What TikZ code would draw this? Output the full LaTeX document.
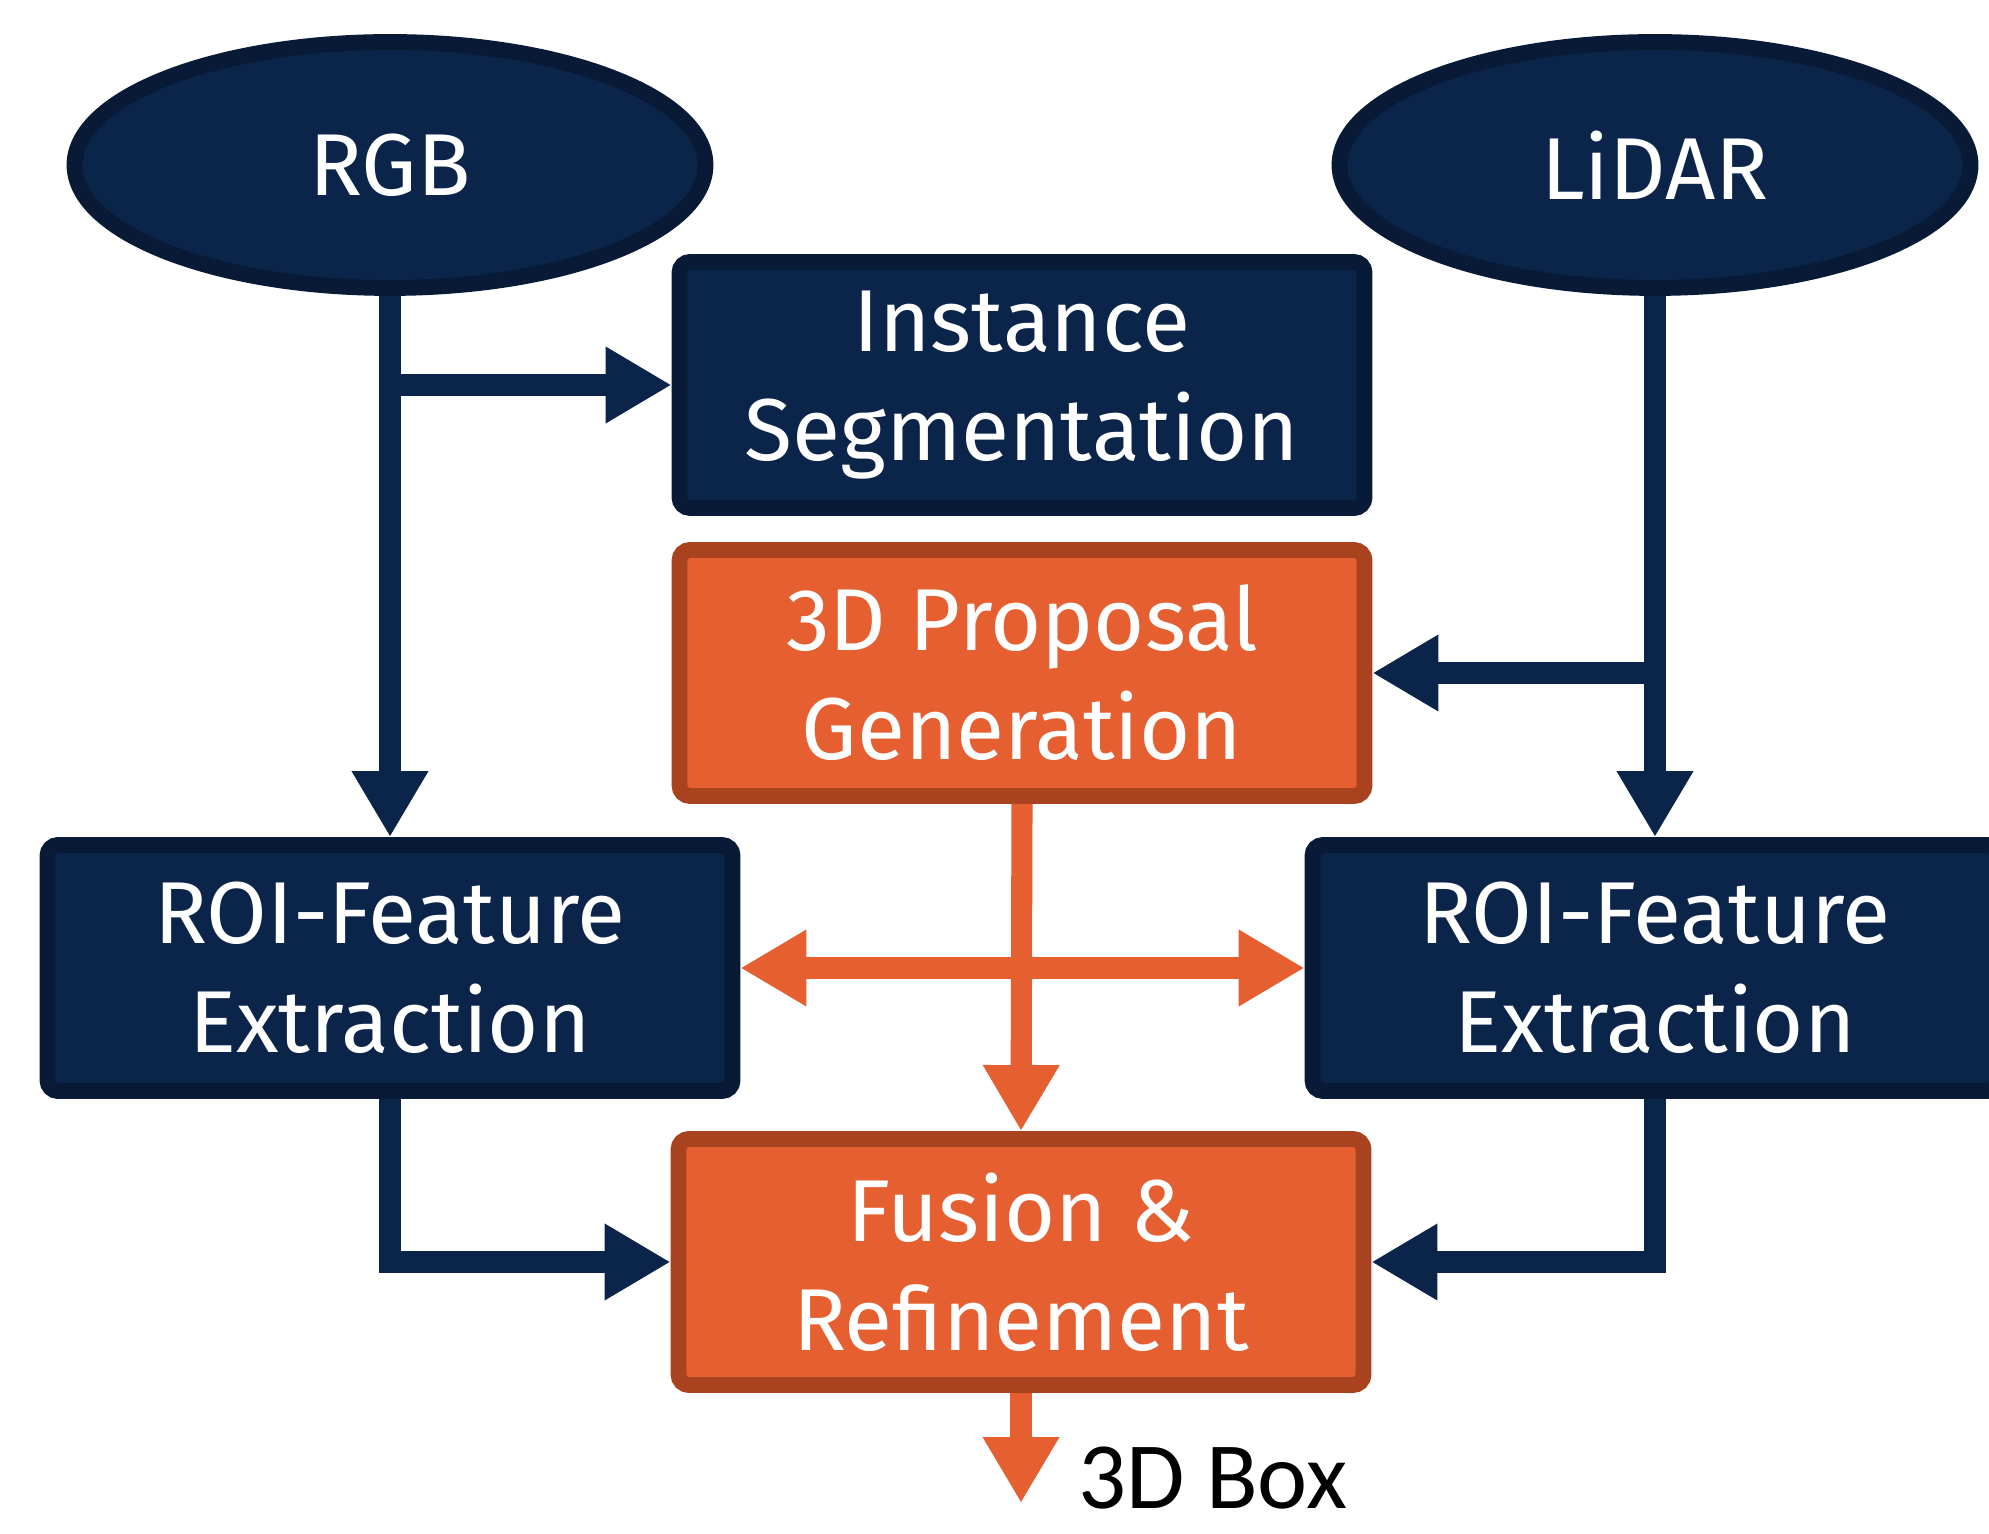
\documentclass[tikz,border=0pt]{standalone}
\usepackage{fontspec}
\setmainfont{Fira Sans}
\newfontfamily\outputfont{Carlito}
\usetikzlibrary{shapes.geometric,arrows.meta}

\definecolor{navyfill}{HTML}{0B2449}
\definecolor{navyline}{HTML}{081A36}
\definecolor{orangefill}{HTML}{E55F30}
\definecolor{orangeline}{HTML}{A8421F}

\begin{document}
\begin{tikzpicture}[
	labelfont/.style={font=\fontsize{25}{31}\selectfont},
	source/.style={ellipse, draw=navyline, fill=navyfill, line width=4.5pt,
		inner sep=0pt, minimum width=6.31cm, minimum height=2.46cm,
		text=white, labelfont},
	stage/.style={rectangle, rounded corners=3pt, draw=navyline, fill=navyfill,
		line width=4.5pt, inner sep=0pt, minimum width=6.85cm,
		minimum height=2.46cm, align=center, text=white, labelfont},
	keystage/.style={stage, draw=orangeline, fill=orangefill},
	flow/.style={draw=navyfill, line width=6pt,
		-{Triangle[length=0.66cm,width=0.72cm]}},
	keyflow/.style={flow, draw=orangefill},
	bothways/.style={{Triangle[length=0.66cm,width=0.72cm]}-{Triangle[length=0.66cm,width=0.72cm]}},
]

% canvas %{{{2

	\useasboundingbox (0,0) rectangle (19.89,-15.34);

% inputs %{{{2

	\node[source] (rgb)   at (3.90,-1.65)  {RGB};
	\node[source] (lidar) at (16.55,-1.65) {LiDAR};

% stages %{{{2

	\node[stage]    (inst) at (10.22,-3.85)  {Instance\\Segmentation};
	\node[keystage] (prop) at (10.22,-6.73)  {3D Proposal\\Generation};

	\node[stage] (roiL) at (3.90,-9.68)  {ROI-Feature\\Extraction};
	\node[stage] (roiR) at (16.55,-9.68) {ROI-Feature\\Extraction};

	\node[keystage] (fuse) at (10.21,-12.62) {Fusion \&\\Refinement};

	% output
	\coordinate (out) at (10.21,-15.03);
	\node[anchor=west, font=\outputfont\fontsize{27}{32}\selectfont]
		(box) at (10.66,-14.78) {3D Box};

% connectors %{{{2

	\draw[flow] (rgb.south) -- (roiL.north);
	\draw[flow] (rgb.south |- inst.west) -- (inst.west);

	\draw[flow] (lidar.south) -- (roiR.north);
	\draw[flow] (lidar.south |- prop.east) -- (prop.east);

	% proposals go to both branches
	\draw[keyflow] (prop.south) -- (fuse.north);
	\draw[keyflow, bothways] (roiL.east) -- (roiR.west);

	\draw[flow] (roiL.south) |- (fuse.west);
	\draw[flow] (roiR.south) |- (fuse.east);

	\draw[keyflow] (fuse.south) -- (out);

% closing %{{{2

\end{tikzpicture}
\end{document}
